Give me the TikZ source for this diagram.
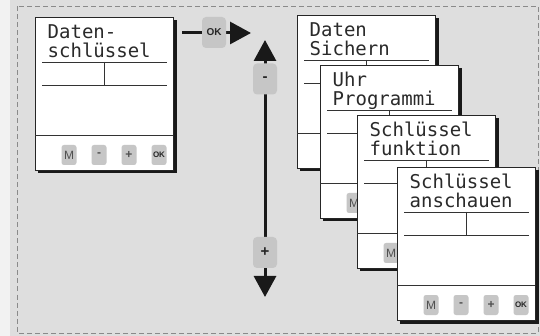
\documentclass[tikz,border=0pt]{standalone}
\usepackage{fontspec}
\usetikzlibrary{arrows.meta}
\newfontfamily\lcdfont{DejaVu Sans Mono}
\newfontfamily\btnfont{Liberation Sans}
\definecolor{bgc}{HTML}{DEDEDE}
\definecolor{stripc}{HTML}{F2F2F2}
\definecolor{dashc}{HTML}{8A8A8A}
\definecolor{btnc}{HTML}{C6C6C6}
\definecolor{btntext}{HTML}{505050}
\definecolor{lcdc}{HTML}{2A2A2A}
\tikzset{
  devframe/.style={draw=black!85, line width=0.8pt, fill=white, minimum width=138pt, minimum height=153pt, anchor=north west, inner sep=0pt},
  lcdline/.style={draw=black!80, line width=0.8pt},
  lcdtext/.style={font=\lcdfont\fontsize{19}{19}\selectfont, text=lcdc, anchor=base west, inner sep=0pt},
  smallbtn/.style={fill=btnc, rounded corners=2.5pt, minimum width=15pt, minimum height=20pt, inner sep=0pt, font=\btnfont\fontsize{12}{12}\selectfont, text=btntext},
  okbtn/.style={smallbtn, font=\btnfont\bfseries\fontsize{8}{8}\selectfont, text=black!85},
  bigbtn/.style={fill=btnc, rounded corners=4pt, minimum width=24pt, minimum height=31pt, inner sep=0pt, font=\btnfont\bfseries\fontsize{15}{15}\selectfont, text=black!85},
  bigarrow/.style={line width=3pt, draw=black!90, -{Triangle[length=21pt,width=22pt]}},
}
\newcommand\btnM[1]{\node[smallbtn] (#1-m) at (34,138) {M};}
\newcommand\btnAll[1]{%
  \btnM{#1}%
  \node[smallbtn] (#1-minus) at (64,138) {\textbf{-}};
  \node[smallbtn] (#1-plus) at (94,138) {\textbf{+}};
  \node[okbtn] (#1-ok) at (124,138) {OK};}
\newcommand\devbox[6]{% name, x, y, line1, line2, buttons
  \begin{scope}[shift={(#2,#3)}]
    \fill[black!90] (3,3) rectangle (141.5,156.5);
    \node[devframe] (#1) at (0,0) {};
    \draw[lcdline] (7,45) -- (132,45);
    \draw[lcdline] (7,68) -- (132,68);
    \draw[lcdline] (69,45) -- (69,68);
    \draw[lcdline] (0,118) -- (138,118);
    \node[lcdtext] (#1-t1) at (12.5,22) {#4};
    \node[lcdtext] (#1-t2) at (12.5,41) {#5};
    #6
  \end{scope}}
\begin{document}
\begin{tikzpicture}[x=1pt,y=-1pt]
  \useasboundingbox (0,0) rectangle (540,336);
  \fill[bgc] (0,0) rectangle (540,336);
  \fill[stripc] (0,0) rectangle (10,336);
  \draw[dashc, line width=0.8pt, dash pattern=on 5pt off 3pt] (17.5,6.5) rectangle (538,333);

  \devbox{main}{35}{17}{Daten-}{schlüssel}{\btnAll{main}}

  % OK arrow
  \coordinate (okstart) at (182,33);
  \coordinate (okend) at (251,33);
  \draw[bigarrow] (okstart) -- (okend);
  \node[bigbtn, font=\btnfont\bfseries\fontsize{10}{10}\selectfont] (okbig) at (214,32.5) {OK};

  % vertical double arrow
  \coordinate (vtop) at (265,40);
  \coordinate (vbot) at (265,297);
  \draw[bigarrow, {Triangle[length=21pt,width=22pt]}-{Triangle[length=21pt,width=22pt]}] (vbot) -- (vtop);
  \node[bigbtn] (minusbig) at (265,79) {-};
  \node[bigbtn] (plusbig) at (265,252.5) {+};

  % stacked menu boxes
  \devbox{boxa}{297}{15}{Daten}{Sichern}{}
  \devbox{boxb}{320}{65}{Uhr}{Programmi}{\btnM{boxb}}
  \devbox{boxc}{357}{115}{Schlüssel}{funktion}{\btnM{boxc}}
  \devbox{boxd}{397}{167}{Schlüssel}{anschauen}{\btnAll{boxd}}
\end{tikzpicture}
\end{document}
